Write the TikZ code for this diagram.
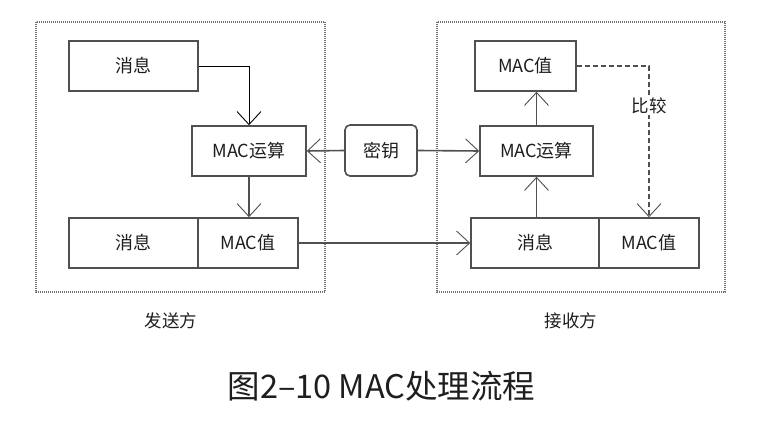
\documentclass[tikz,border=0pt]{standalone}
\usepackage{fontspec}
\setmainfont{Noto Sans CJK SC}
\usetikzlibrary{arrows.meta}
\definecolor{ln}{HTML}{505050}
\definecolor{tx}{HTML}{1E1E1E}
\definecolor{dt}{HTML}{707070}
\begin{document}
\begin{tikzpicture}[x=1pt,y=-1pt,
  box/.style={draw=ln,line width=1.6pt,minimum height=50pt,inner sep=0pt,text=tx,font=\fontsize{18}{20}\selectfont},
  rbox/.style={box,rounded corners=5pt},
  conn/.style={draw=ln,line width=1.6pt,-{Straight Barb[length=13pt,width=24pt,line width=0.9pt]}},
  thinconn/.style={draw=black,line width=0.9pt,-{Straight Barb[length=13pt,width=24pt,line width=0.9pt]}},
  dashconn/.style={draw=ln,line width=1.6pt,dash pattern=on 5pt off 3pt,-{Straight Barb[length=13pt,width=24pt,line width=0.9pt]}},
  frame/.style={draw=dt,line width=1.6pt,dash pattern=on 0.8pt off 1.2pt},
  lbl/.style={text=tx,font=\fontsize{17.5}{20}\selectfont},
]
\useasboundingbox (0,0) rectangle (780,422);
\fill[white] (0,0) rectangle (780,422);
% frames
\draw[frame] (36,22) rectangle (325,292);
\draw[frame] (437,22) rectangle (725,292);
% sender
\node[box,minimum width=129pt] (lmsg) at (133.5,66) {消息};
\node[box,minimum width=114pt] (lmac) at (249,151) {MAC运算};
\node[box,minimum width=129pt] (lbm) at (133.5,243) {消息};
\node[box,minimum width=100pt] (lbv) at (248,243) {MAC值};
% key
\node[rbox,minimum width=72pt,minimum height=51pt] (key) at (381,150.5) {密钥};
% receiver
\node[box,minimum width=101pt] (rval) at (525.5,66) {MAC值};
\node[box,minimum width=113pt] (rmac) at (536.5,151) {MAC运算};
\node[box,minimum width=128pt] (rbm) at (535,243) {消息};
\node[box,minimum width=100pt] (rbv) at (649,243) {MAC值};
% connectors
\draw[thinconn] (lmsg.east) -| (lmac.north);
\draw[conn] (lmac.south) -- (lmac.south |- lbv.north);
\draw[conn] (key.west) -- (lmac.east);
\draw[conn] (key.east) -- (rmac.west);
\draw[conn] (lbv.east) -- (rbm.west);
\draw[conn] (rmac.south |- rbm.north) -- (rmac.south);
\draw[conn] (rmac.north) -- (rmac.north |- rval.south);
\draw[dashconn] (rval.east) -| (rbv.north);
\node[lbl,fill=white,inner sep=1pt] (cmp) at (649,106) {比较};
% labels
\node[lbl] (snd) at (171,321) {发送方};
\node[lbl] (rcv) at (571,321) {接收方};
\node[text=tx,font=\fontsize{32.5}{36}\selectfont] (cap) at (381.5,386) {图2–10 MAC处理流程};
\end{tikzpicture}
\end{document}
